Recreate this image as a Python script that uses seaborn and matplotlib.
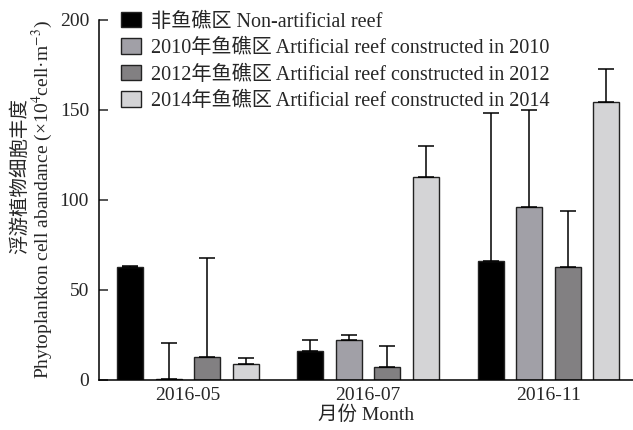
import numpy as np
import pandas as pd
import matplotlib
matplotlib.use("Agg")
import matplotlib.pyplot as plt
import seaborn as sns

months = ["2016-05", "2016-07", "2016-11"]
groups = [
    "非鱼礁区 Non-artificial reef",
    "2010年鱼礁区 Artificial reef constructed in 2010",
    "2012年鱼礁区 Artificial reef constructed in 2012",
    "2014年鱼礁区 Artificial reef constructed in 2014",
]
# mean abundance per group and month, ×10^4 cell·m^-3
mean_non = [63.0, 16.0, 66.0]
mean_2010 = [0.5, 22.0, 96.0]
mean_2012 = [13.0, 7.0, 63.0]
mean_2014 = [9.0, 112.5, 154.5]
# standard deviation (upper error bar)
sd_non = [0.3, 6.0, 82.5]
sd_2010 = [20.0, 3.0, 54.0]
sd_2012 = [55.0, 12.0, 31.0]
sd_2014 = [3.0, 17.5, 18.5]

colors = ["#000000", "#a09fa8", "#828082", "#d4d4d6"]

means = [mean_non, mean_2010, mean_2012, mean_2014]
sds = [sd_non, sd_2010, sd_2012, sd_2014]
df = pd.DataFrame({
    "month": [m for _ in groups for m in months],
    "group": [g for g in groups for _ in months],
    "value": [v for row in means for v in row],
    "sd": [v for row in sds for v in row],
})

sns.set_style("ticks")
plt.rcParams["font.family"] = ["Liberation Serif", "Noto Sans CJK SC", "DejaVu Sans"]
plt.rcParams["mathtext.fontset"] = "stix"

FS = 14

fig = plt.figure(figsize=(6.33, 4.30), dpi=100)
ax = fig.add_axes([0.156, 0.1163, 0.844, 0.8372])

sns.barplot(data=df, x="month", y="value", hue="group", hue_order=groups,
            order=months, palette=colors, width=0.855, gap=0.325,
            edgecolor="#222222", linewidth=1.0, errorbar=None, ax=ax,
            legend=True)

# upper error bars drawn from each bar's top
bars = ax.patches[:len(groups) * len(months)]
for gi, g in enumerate(groups):
    sub = df[df["group"] == g].set_index("month").loc[months]
    for mi, m in enumerate(months):
        bar = bars[gi * len(months) + mi]
        xc = bar.get_x() + bar.get_width() / 2
        ax.errorbar(xc, sub.loc[m, "value"], yerr=[[0], [sub.loc[m, "sd"]]],
                    fmt="none", ecolor="black", elinewidth=1.1, capsize=5.5,
                    capthick=1.1, zorder=1)

ax.set_xlim(-0.495, 2.47)
ax.set_ylim(0, 200)
ax.set_yticks([0, 50, 100, 150, 200])
ax.tick_params(axis="y", direction="in", length=6.5, width=1.1, labelsize=FS, pad=7)
ax.tick_params(axis="x", length=0, labelsize=FS, pad=5)
for s in ["top", "right"]:
    ax.spines[s].set_visible(False)
for s in ["left", "bottom"]:
    ax.spines[s].set_linewidth(1.1)
    ax.spines[s].set_color("black")

ax.set_xlabel("月份 Month", fontsize=FS, labelpad=1)
ax.set_ylabel("")
fig.text(20 / 633, 1 - 176 / 430, "浮游植物细胞丰度", rotation=90,
         ha="center", va="center", fontsize=FS)
fig.text(42 / 633, 1 - 200 / 430,
         "Phytoplankton cell abandance (×10$^4$cell·m$^{-3}$)", rotation=90,
         ha="center", va="center", fontsize=FS)

leg = ax.legend(loc="upper left", bbox_to_anchor=(0.027, 1.045), frameon=False,
                fontsize=14.5, handlelength=1.0, handleheight=0.8,
                handletextpad=0.5, labelspacing=0.34, borderaxespad=0)
for h in leg.legend_handles:
    h.set_edgecolor("#222222")
    h.set_linewidth(1.0)

fig.savefig("out.png", dpi=100)
